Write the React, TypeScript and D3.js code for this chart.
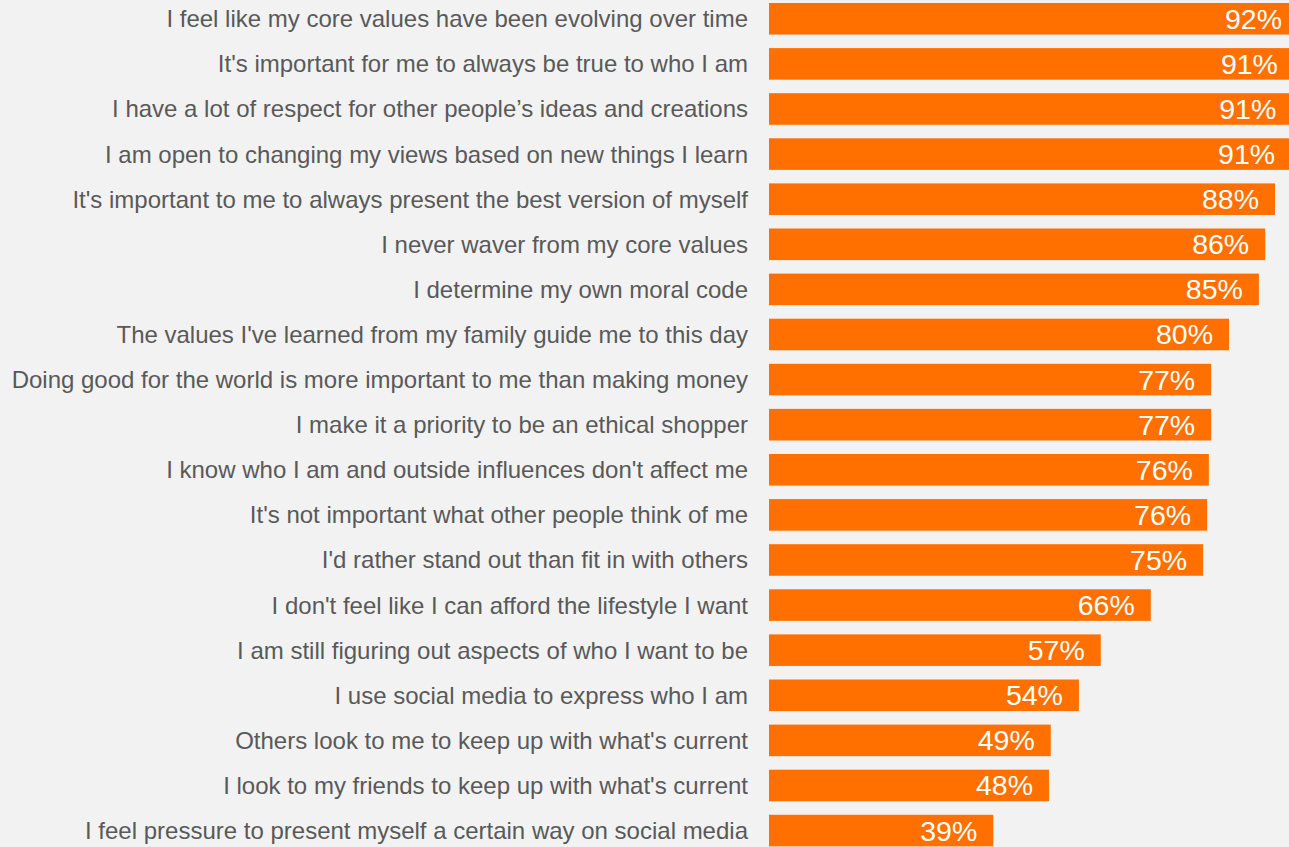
import React from "react";
import * as d3 from "d3";

const categories = [
  "I feel like my core values have been evolving over time",
  "It's important for me to always be true to who I am",
  "I have a lot of respect for other people\u2019s ideas and creations",
  "I am open to changing my views based on new things I learn",
  "It's important to me to always present the best version of myself",
  "I never waver from my core values",
  "I determine my own moral code",
  "The values I've learned from my family guide me to this day",
  "Doing good for the world is more important to me than making money",
  "I make it a priority to be an ethical shopper",
  "I know who I am and outside influences don't affect me",
  "It's not important what other people think of me",
  "I'd rather stand out than fit in with others",
  "I don't feel like I can afford the lifestyle I want",
  "I am still figuring out aspects of who I want to be",
  "I use social media to express who I am",
  "Others look to me to keep up with what's current",
  "I look to my friends to keep up with what's current",
  "I feel pressure to present myself a certain way on social media",
];

const values = [92.0, 91.3, 91.0, 90.8, 88.0, 86.3, 85.2, 80.0, 76.9, 76.9, 76.5, 76.2, 75.5, 66.4, 57.7, 53.9, 49.0, 48.7, 39.0];

const valueLabels = ["92%", "91%", "91%", "91%", "88%", "86%", "85%", "80%", "77%", "77%", "76%", "76%", "75%", "66%", "57%", "54%", "49%", "48%", "39%"];

const W = 1289;
const H = 847;
const STEP = 45.1;
const PAD = 0.3;

export default function App() {
  const x = d3.scaleLinear().domain([0, 100]).range([769, 769 + 575]);
  const r0 = 3 - (STEP * PAD) / 2;
  const y = d3
    .scaleBand<string>()
    .domain(categories)
    .range([r0, r0 + STEP * categories.length])
    .paddingInner(PAD)
    .paddingOuter(PAD / 2);
  const bw = y.bandwidth();
  const font = "'Liberation Sans', Arial, Helvetica, sans-serif";
  return (
    <svg
      width={W}
      height={H}
      style={{ position: "fixed", left: 0, top: 0, display: "block" }}
    >
      <rect x={0} y={0} width={W} height={H} fill="#f2f2f2" />
      {categories.map((c, i) => {
        const yy = y(c) as number;
        const cy = yy + bw / 2;
        return (
          <g key={c}>
            <text
              x={748}
              y={cy + 8.5}
              textAnchor="end"
              fontFamily={font}
              fontSize={24}
              fill="#595959"
            >
              {c}
            </text>
            <rect
              x={x(0)}
              y={yy}
              width={x(values[i]) - x(0)}
              height={bw}
              fill="#ff7000"
            />
            <text
              x={x(values[i]) - 16}
              y={cy + 10}
              textAnchor="end"
              fontFamily={font}
              fontSize={28.5}
              fill="#ffffff"
            >
              {valueLabels[i]}
            </text>
          </g>
        );
      })}
    </svg>
  );
}
